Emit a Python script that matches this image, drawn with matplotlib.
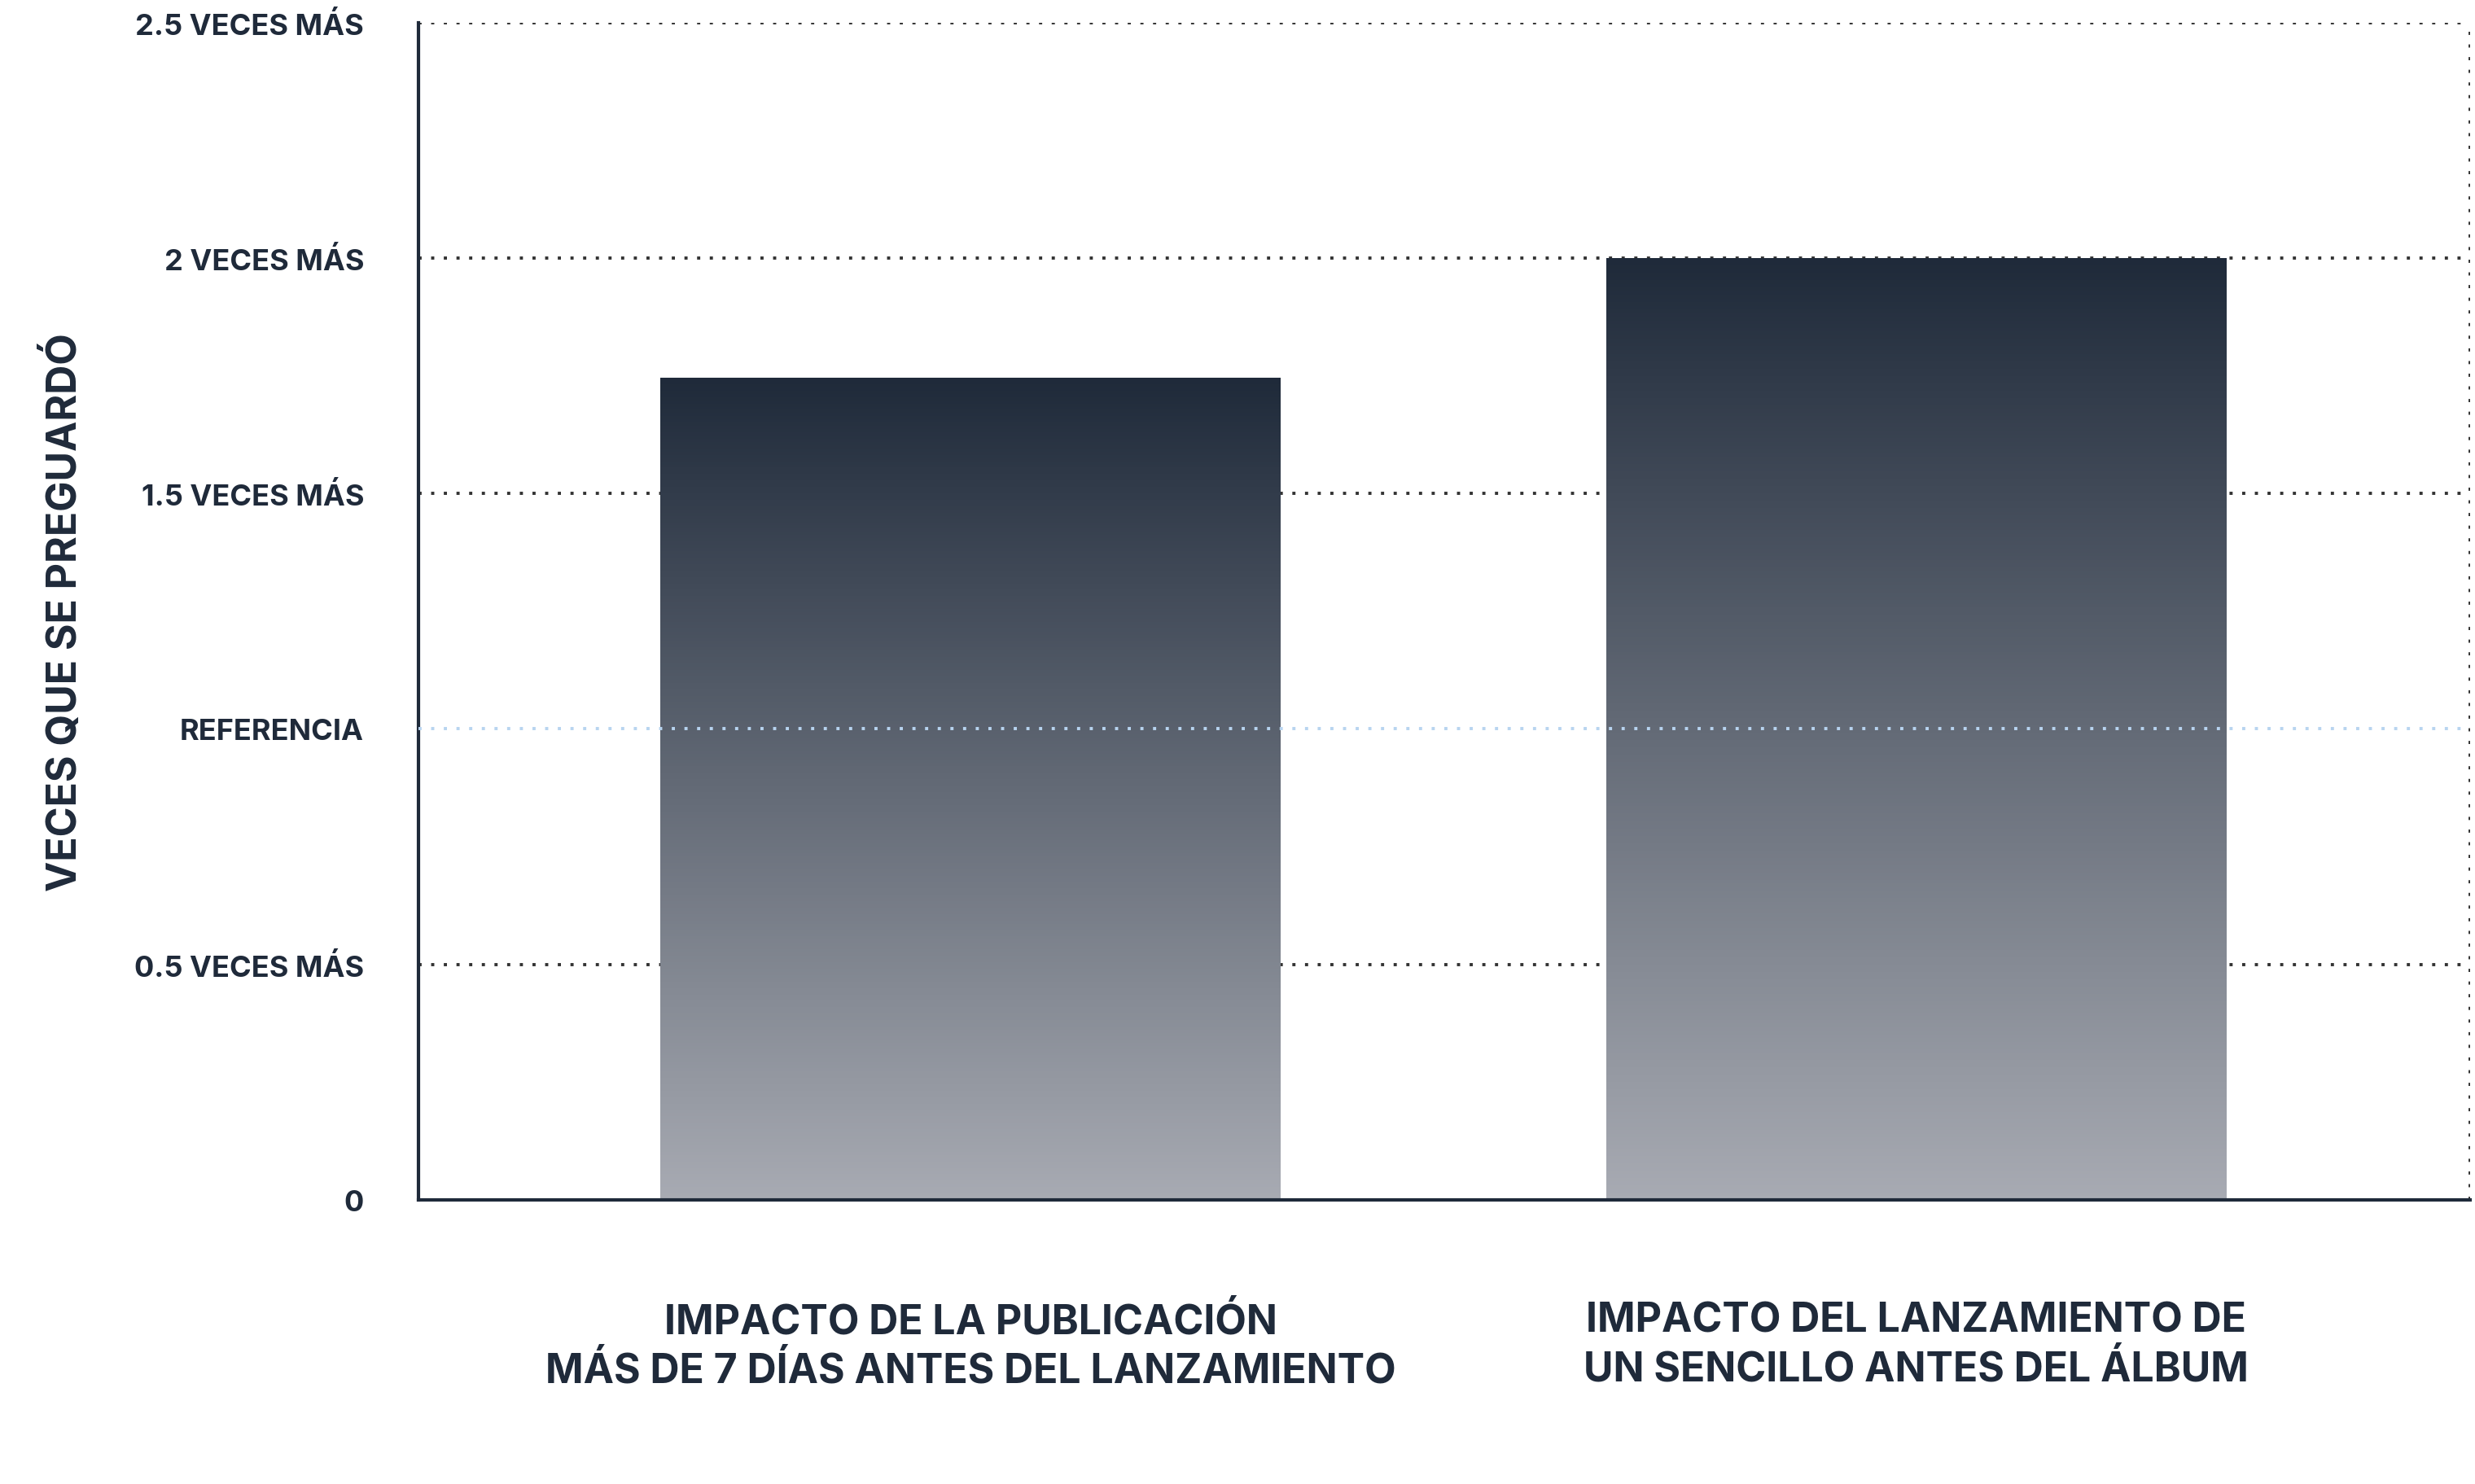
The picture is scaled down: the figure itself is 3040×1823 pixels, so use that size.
import matplotlib
matplotlib.use("Agg")
import matplotlib.pyplot as plt
import numpy as np
from matplotlib.colors import LinearSegmentedColormap

categories = ["IMPACTO DE LA PUBLICACIÓN\nMÁS DE 7 DÍAS ANTES DEL LANZAMIENTO",
              "IMPACTO DEL LANZAMIENTO DE\nUN SENCILLO ANTES DEL ÁLBUM"]
values = [1.745, 2.0]
yticks = [0, 0.5, 1, 1.5, 2, 2.5]
ytick_labels = ["0", "0.5 VECES MÁS", "REFERENCIA", "1.5 VECES MÁS", "2 VECES MÁS", "2.5 VECES MÁS"]
ylabel = "VECES QUE SE PREGUARDÓ"

dark = "#1f2a3a"
plt.rcParams['font.family'] = ['Inter', 'DejaVu Sans']
fig = plt.figure(figsize=(15.2, 9.12), dpi=200)
ax = fig.add_axes([265/1568, 1-760/940, 1300/1568, 745/940])
ax.set_xlim(-0.584, 1.586)
ax.set_ylim(0, 2.5)

cmap = LinearSegmentedColormap.from_list("g", ["#a8abb3", dark])
grad = np.linspace(0, 1, 256).reshape(-1, 1)
w = 0.656
for i, v in enumerate(values):
    ax.imshow(grad, extent=[i - w/2, i + w/2, 0, v], origin="lower", cmap=cmap,
              aspect="auto", zorder=2, vmin=0, vmax=1)
ax.set_aspect("auto")
ax.set_xlim(-0.584, 1.586)
ax.set_ylim(0, 2.5)

for y in yticks[1:]:
    col = "#b8d4f0" if y == 1 else "#333333"
    ax.axhline(y, color=col, linestyle=(0, (1, 3)), linewidth=1.4, zorder=3 if y == 1 else 1)
ax.axvline(1.586, color="#333333", linestyle=(0, (1, 3)), linewidth=1.4)

for s in ["top", "right"]:
    ax.spines[s].set_visible(False)
for s in ["left", "bottom"]:
    ax.spines[s].set_color(dark)
    ax.spines[s].set_linewidth(1.5)

ax.set_yticks(yticks)
ax.set_yticklabels(ytick_labels, fontsize=13, fontweight="bold", color=dark)
ax.set_xticks(range(len(categories)))
ax.set_xticklabels(categories, fontsize=18, fontweight="bold", color=dark, linespacing=1.3)
ax.tick_params(axis="both", length=0, pad=24)
ax.tick_params(axis="x", pad=45)
ax.set_ylabel(ylabel, fontsize=18, fontweight="bold", color=dark, labelpad=22)
fig.savefig("out.png", dpi=200)
